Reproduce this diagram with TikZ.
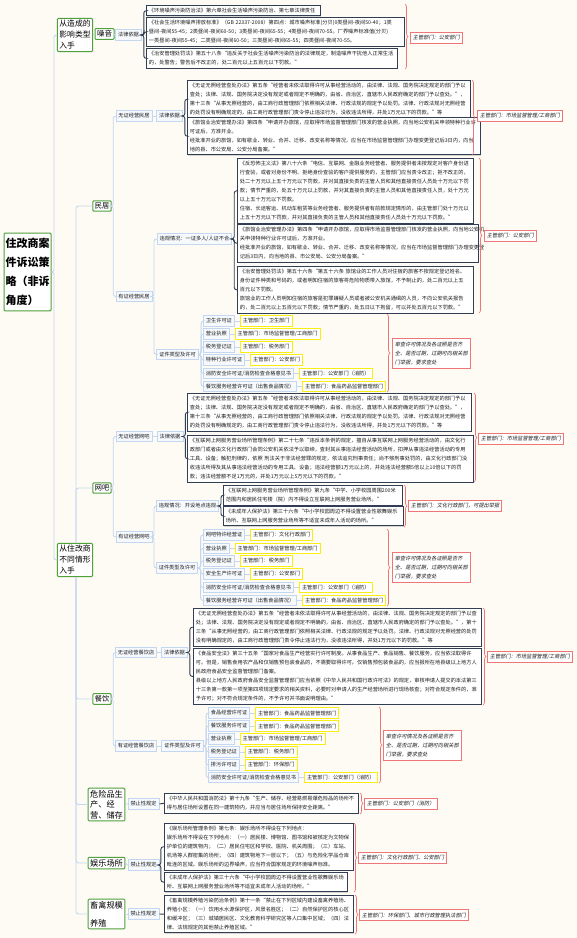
\documentclass[tikz,border=0pt]{standalone}
\usepackage{fontspec}
\setmainfont{Noto Sans CJK SC}
\newfontfamily\slfont[FakeSlant=0.2]{Noto Sans CJK SC}
\usetikzlibrary{decorations.pathreplacing,shadows}
\definecolor{bg}{RGB}{253,251,244}
\definecolor{navy}{RGB}{50,62,84}
\definecolor{lblue}{RGB}{196,215,240}
\definecolor{bfill}{RGB}{246,249,253}
\definecolor{yel}{RGB}{248,238,20}
\definecolor{rednote}{RGB}{238,118,118}
\definecolor{gbord}{RGB}{80,160,60}
\definecolor{tx}{RGB}{28,28,28}
\newcommand\fs{\fontsize{5.2}{9}\selectfont}
\newcommand\zjitem[6]{%
  \node[blu, anchor=west] (#1) at (#2,#3) {#4};
  \node[yel] (#1y) at ([xshift=5pt]#1.east) {#5};
  \draw[con] (#6.east) -- ++(2.5,0) |- (#1.west);
  \draw[con] (#1.east) -- (#1y.west);}
\begin{document}
\begin{tikzpicture}[x=1pt,y=-1pt,
  con/.style={draw=lblue, line width=0.9pt, rounded corners=2.5pt},
  ncon/.style={draw=navy, line width=0.9pt, rounded corners=2.5pt},
  rbrace/.style={draw=rednote, line width=0.7pt, decorate, decoration={brace, amplitude=3pt, aspect=0.5}},
  txt/.style={draw=navy, line width=0.9pt, fill=white, text=tx, font=\fs, align=left, anchor=north west, inner xsep=2.5pt, inner ysep=2.8pt, drop shadow={shadow xshift=0.8pt, shadow yshift=-0.8pt, opacity=0.3, fill=gray}},
  blu/.style={draw=lblue, line width=0.8pt, fill=bfill, text=tx, font=\fs, inner xsep=2.5pt, inner ysep=0pt, minimum height=10.5pt},
  yel/.style={draw=yel, line width=1pt, fill=white, text=tx, font=\fs, inner xsep=2.5pt, inner ysep=0pt, minimum height=10.5pt, anchor=west},
  rnote/.style={draw=rednote, line width=0.8pt, fill=white, text=tx, font={\slfont\fs}, inner xsep=2.5pt, inner ysep=0pt, minimum height=11pt, anchor=west},
  rnotem/.style={draw=rednote, line width=0.8pt, fill=white, text=tx, font={\slfont\fs}, inner xsep=2.5pt, inner ysep=3.8pt, align=left, anchor=west},
  grn/.style={draw=gbord, line width=1pt, fill=white, text=black, align=left, rounded corners=1pt},
]
\useasboundingbox (0,0) rectangle (577,938);
\fill[bg] (0,0) rectangle (577,938);

% ===== left tree =====
\node[grn, font=\fontsize{11}{19}\selectfont\bfseries, inner xsep=1.5pt, inner ysep=5pt] (root) at (27.5,272) {住改商案\\件诉讼策\\略（非诉\\角度）};
\node[grn, font=\fontsize{7.8}{11}\selectfont, inner sep=2pt] (ga) at (75,35) {从造成的\\影响类型\\入手};
\node[grn, font=\fontsize{7.8}{11}\selectfont, inner sep=2pt] (gb) at (75,560) {从住改商\\不同情形\\入手};
\draw[con] (root.east) -- ++(2.5,0) |- (ga.west);
\draw[con] (root.east) -- ++(2.5,0) |- (gb.west);

\node[grn, font=\fontsize{7.5}{10}\selectfont, inner sep=2pt] (zy) at (104.5,34) {噪音};
\draw[con] (ga.east) -- (zy.west);

\node[grn, font=\fontsize{7.2}{10}\selectfont, inner sep=2pt] (mj) at (102,206) {民居};
\node[grn, font=\fontsize{7.2}{10}\selectfont, inner sep=2pt] (wb) at (102,488) {网吧};
\node[grn, font=\fontsize{7.2}{10}\selectfont, inner sep=2pt] (cy) at (102,699) {餐饮};
\node[grn, font=\fontsize{8.2}{10.5}\selectfont, inner sep=2pt] (wx) at (106.5,804.5) {危险品生\\产、经\\营、储存};
\node[grn, font=\fontsize{8.2}{10.5}\selectfont, inner sep=2pt] (yl) at (106.5,863) {娱乐场所};
\node[grn, font=\fontsize{8.2}{18}\selectfont, inner sep=2pt] (xq) at (106.5,914) {畜禽规模\\养殖};
\foreach \c in {mj,wb} {\draw[con] ([xshift=1pt]gb.north) |- (\c.west);}
\foreach \c in {cy,wx,yl,xq} {\draw[con] ([xshift=1pt]gb.south) |- (\c.west);}

% ===== noise =====
\node[blu] (law0) at (128.5,35) {法律依据};
\draw[con] (zy.east) -- (law0.west);
\node[txt, text width=169pt] (n1) at (146,5) {《环境噪声污染防治法》第六章社会生活噪声污染防治、第七章法律责任};
\node[txt, text width=253pt] (n2) at (146,17) {《社会生活环境噪声排放标准》（GB 22337-2008）第四点：城市噪声标准(分贝)0类昼间-夜间50-40；1类\\昼间-夜间55-45；2类昼间-夜间60-50；3类昼间-夜间65-55；4类昼间-夜间70-55。厂界噪声标准值(分贝)\\一类昼间-夜间55-45；二类昼间-夜间60-50；三类昼间-夜间65-55；四类昼间-夜间70-55。};
\node[txt, text width=246pt] (n3) at (146,48) {《治安管理处罚法》第五十八条“违反关于社会生活噪声污染防治的法律规定，制造噪声干扰他人正常生活\\的，处警告；警告后不改正的，处二百元以上五百元以下罚款。”};
\foreach \c in {n1,n2,n3} {\draw[ncon] (law0.east) -- ++(2,0) |- (\c.west);}
\draw[rbrace] (405,4) -- (405,69);
\node[rnote] (r1) at (410,37.5) {主管部门：公安部门};

% ===== 民居 =====
\node[blu] (wzmj) at (134,116) {无证经营民居};
\node[blu] (law1) at (169.5,116) {法律依据};
\node[blu] (yzmj) at (134,296.5) {有证经营民居};
\draw[con] (mj.east) -- ++(1.5,0) |- (wzmj.west);
\draw[con] (mj.east) -- ++(1.5,0) |- (yzmj.west);
\draw[con] (wzmj.east) -- (law1.west);
\node[txt, text width=278pt] (m1) at (187,80) {《无证无照经营查处办法》第五条“经营者未依法取得许可从事经营活动的，由法律、法规、国务院决定规定的部门予以\\查处；法律、法规、国务院决定没有规定或者规定不明确的，由省、自治区、直辖市人民政府确定的部门予以查处。”，\\第十三条“从事无照经营的，由工商行政管理部门依照相关法律、行政法规的规定予以处罚。法律、行政法规对无照经营\\的处罚没有明确规定的，由工商行政管理部门责令停止违法行为，没收违法所得，并处1万元以下的罚款。”等};
\node[txt, text width=288pt] (m2) at (187,117) {《旅馆业治安管理办法》第四条“申请开办旅馆，应取得市场监督管理部门核发的营业执照，向当地公安机关申领特种行业许\\可证后，方准开业。\\经批准开业的旅馆，如有歇业、转业、合并、迁移、改变名称等情况，应当在市场监督管理部门办理变更登记后3日内，向当\\地的县、市公安局、公安分局备案。”};
\foreach \c in {m1,m2} {\draw[ncon] (law1.east) -- ++(2,0) |- (\c.west);}
\draw[rbrace] (472,80) -- (472,155);
\node[rnote] (r2) at (477,116) {主管部门：市场监督管理/工商部门};

\node[blu] (wg1) at (194.5,239) {违规情况：一证多人/人证不合};
\node[blu] (zj1) at (177.5,354.5) {证件类型及许可};
\draw[con] (yzmj.east) -- ++(1.5,0) |- (wg1.west);
\draw[con] (yzmj.east) -- ++(1.5,0) |- (zj1.west);
\node[txt, text width=231pt] (m3) at (237,158) {《反恐怖主义法》第八十六条“电信、互联网、金融业务经营者、服务提供者未按规定对客户身份进\\行查验，或者对身份不明、拒绝身份查验的客户提供服务的，主管部门应当责令改正；拒不改正的，\\处二十万元以上五十万元以下罚款，并对其直接负责的主管人员和其他直接责任人员处十万元以下罚\\款；情节严重的，处五十万元以上罚款，并对其直接负责的主管人员和其他直接责任人员，处十万元\\以上五十万元以下罚款。\\住宿、长途客运、机动车租赁等业务经营者、服务提供者有前款规定情形的，由主管部门处十万元以\\上五十万元以下罚款，并对其直接负责的主管人员和其他直接责任人员处十万元以下罚款。”};
\node[txt, text width=236pt] (m4) at (237,224) {《旅馆业治安管理办法》第四条“申请开办旅馆，应取得市场监督管理部门核发的营业执照，向当地公安机\\关申领特种行业许可证后，方准开业。\\经批准开业的旅馆，如有歇业、转业、合并、迁移、改变名称等情况，应当在市场监督管理部门办理变更登\\记后3日内，向当地的县、市公安局、公安分局备案。”};
\node[txt, text width=231pt] (m5) at (237,266) {《治安管理处罚法》第五十六条“第五十六条~旅馆业的工作人员对住宿的旅客不按规定登记姓名、\\身份证件种类和号码的，或者明知住宿的旅客将危险物质带入旅馆，不予制止的，处二百元以上五\\百元以下罚款。\\旅馆业的工作人员明知住宿的旅客是犯罪嫌疑人员或者被公安机关通缉的人员，不向公安机关报告\\的，处二百元以上五百元以下罚款；情节严重的，处五日以下拘留，可以并处五百元以下罚款。”};
\foreach \c in {m3,m4,m5} {\draw[ncon] (wg1.east) -- ++(2,0) |- (\c.west);}
\draw[rbrace] (479,158) -- (479,313);
\node[rnote] (r3) at (484,236) {主管部门：公安部门};

\zjitem{a1}{203}{321}{卫生许可证}{主管部门：卫生部门}{zj1}
\zjitem{a2}{203}{334}{营业执照}{主管部门：市场监督管理/工商部门}{zj1}
\zjitem{a3}{203}{347}{税务登记证}{主管部门：税务部门}{zj1}
\zjitem{a4}{203}{360}{特种行业许可证}{主管部门：公安部门}{zj1}
\zjitem{a5}{203}{373.5}{消防安全许可证/消防检查合格意见书}{主管部门：公安部门（消防）}{zj1}
\zjitem{a6}{203}{386.5}{餐饮服务经营许可证（出售食品情况）}{主管部门：食品药品监督管理部门}{zj1}
\draw[rbrace] (387,314) -- (387,392);
\node[rnotem] (r4) at (392,353.5) {审查许可情况及各证照是否齐\\全、是否过期，过期可向相关部\\门举报，要求查处};

% ===== 网吧 =====
\node[blu] (wzwb) at (134,436.5) {无证经营网吧};
\node[blu] (law2) at (170,436.5) {法律依据};
\node[blu] (yzwb) at (134,537) {有证经营网吧};
\draw[con] (wb.east) -- ++(1.5,0) |- (wzwb.west);
\draw[con] (wb.east) -- ++(1.5,0) |- (yzwb.west);
\draw[con] (wzwb.east) -- (law2.west);
\node[txt, text width=279pt] (w1) at (187,393) {《无证无照经营查处办法》第五条“经营者未依法取得许可从事经营活动的，由法律、法规、国务院决定规定的部门予以\\查处；法律、法规、国务院决定没有规定或者规定不明确的，由省、自治区、直辖市人民政府确定的部门予以查处。”，\\第十三条“从事无照经营的，由工商行政管理部门依照相关法律、行政法规的规定予以处罚。法律、行政法规对无照经营\\的处罚没有明确规定的，由工商行政管理部门责令停止违法行为，没收违法所得，并处1万元以下的罚款。”等};
\node[txt, text width=281pt] (w2) at (187,435) {《互联网上网服务营业场所管理条例》第二十七条“违反本条例的规定，擅自从事互联网上网服务经营活动的，由文化行\\政部门或者由文化行政部门会同公安机关依法予以取缔，查封其从事违法经营活动的场所，扣押从事违法经营活动的专用\\工具、设备；触犯刑律的，依照~刑法关于非法经营罪的规定，依法追究刑事责任；尚不够刑事处罚的，由文化行政部门没\\收违法所得及其从事违法经营活动的专用工具、设备；违法经营额1万元以上的，并处违法经营额5倍以上10倍以下的罚\\款；违法经营额不足1万元的，并处1万元以上5万元以下的罚款。”};
\foreach \c in {w1,w2} {\draw[ncon] (law2.east) -- ++(2,0) |- (\c.west);}
\draw[rbrace] (474,393) -- (474,482);
\node[rnote] (r5) at (478,438.5) {主管部门：市场监督管理/工商部门};

\node[blu] (wg2) at (187.5,506) {违规情况：开设地点违规};
\node[blu] (zj2) at (177,568) {证件类型及许可};
\draw[con] (yzwb.east) -- ++(1.5,0) |- (wg2.west);
\draw[con] (yzwb.east) -- ++(1.5,0) |- (zj2.west);
\node[txt, text width=174pt] (w3) at (223,485) {《互联网上网服务营业场所管理条例》第九条“中学、小学校园周围200米\\范围内和居民住宅楼（院）内不得设立互联网上网服务营业场所。”};
\node[txt, text width=175pt] (w4) at (223,506) {《未成年人保护法》第三十六条“中小学校园周边不得设置营业性歌舞娱乐\\场所、互联网上网服务营业场所等不适宜未成年人活动的场所。”};
\foreach \c in {w3,w4} {\draw[ncon] (wg2.east) -- ++(2,0) |- (\c.west);}
\draw[rbrace] (404,485) -- (404,527);
\node[rnote] (r6) at (408,505.5) {主管部门：文化行政部门，可提出举报};

\zjitem{b1}{203}{535}{网吧特许经营证}{主管部门：文化行政部门}{zj2}
\zjitem{b2}{203}{548.5}{营业执照}{主管部门：市场监督管理/工商部门}{zj2}
\zjitem{b3}{203}{561}{税务登记证}{主管部门：税务部门}{zj2}
\zjitem{b4}{203}{574}{安全生产许可证}{主管部门：公安部门}{zj2}
\zjitem{b5}{203}{587.5}{消防安全许可证/消防检查合格意见书}{主管部门：公安部门（消防）}{zj2}
\zjitem{b6}{203}{600.5}{餐饮服务经营许可证（出售食品情况）}{主管部门：食品药品监督管理部门}{zj2}
\draw[rbrace] (387,529) -- (387,606);
\node[rnotem] (r7) at (392,567.5) {审查许可情况及各证照是否齐\\全、是否过期，过期可向相关部\\门举报，要求查处};

% ===== 餐饮 =====
\node[blu] (wzcy) at (136,652.5) {无证经营餐饮店};
\node[blu] (law3) at (174.5,652.5) {法律依据};
\node[blu] (yzcy) at (136,746) {有证经营餐饮店};
\draw[con] (cy.east) -- ++(1.5,0) |- (wzcy.west);
\draw[con] (cy.east) -- ++(1.5,0) |- (yzcy.west);
\draw[con] (wzcy.east) -- (law3.west);
\node[txt, text width=283pt] (c1) at (193,608) {《无证无照经营查处办法》第五条“经营者未依法取得许可从事经营活动的，由法律、法规、国务院决定规定的部门予以查\\处；法律、法规、国务院决定没有规定或者规定不明确的，由省、自治区、直辖市人民政府确定的部门予以查处。”，第十\\三条“从事无照经营的，由工商行政管理部门依照相关法律、行政法规的规定予以处罚。法律、行政法规对无照经营的处罚\\没有明确规定的，由工商行政管理部门责令停止违法行为，没收违法所得，并处1万元以下的罚款。”等};
\node[txt, text width=283pt] (c2) at (193,648) {《食品安全法》第三十五条“国家对食品生产经营实行许可制度。从事食品生产、食品销售、餐饮服务，应当依法取得许\\可。但是，销售食用农产品和仅销售预包装食品的，不需要取得许可。仅销售预包装食品的，应当报所在地县级以上地方人\\民政府食品安全监督管理部门备案。\\县级以上地方人民政府食品安全监督管理部门应当依照《中华人民共和国行政许可法》的规定，审核申请人提交的本法第三\\十三条第一款第一项至第四项规定要求的相关资料，必要时对申请人的生产经营场所进行现场核查；对符合规定条件的，准\\予许可；对不符合规定条件的，不予许可并书面说明理由。”};
\foreach \c in {c1,c2} {\draw[ncon] (law3.east) -- ++(2,0) |- (\c.west);}
\draw[rbrace] (483,608) -- (483,705);
\node[rnote] (r8) at (487,657) {主管部门：市场监督管理/工商部门};

\node[blu] (zj3) at (182.5,746) {证件类型及许可};
\draw[con] (yzcy.east) -- (zj3.west);
\zjitem{d1}{208}{713}{食品经营许可证}{主管部门：食品药品监督管理部门}{zj3}
\zjitem{d2}{208}{726}{餐饮服务许可证}{主管部门：食品药品监督管理部门}{zj3}
\zjitem{d3}{208}{739}{营业执照}{主管部门：市场监督管理/工商部门}{zj3}
\zjitem{d4}{208}{752}{税务登记证}{主管部门：税务部门}{zj3}
\zjitem{d5}{208}{765}{排污许可证}{主管部门：环保部门}{zj3}
\zjitem{d6}{208}{777.5}{消防安全许可证/消防检查合格意见书}{主管部门：公安部门（消防）}{zj3}
\draw[rbrace] (379,707) -- (379,783);
\node[rnotem] (r9) at (383,745.5) {审查许可情况及各证照是否齐\\全、是否过期，过期可向相关部\\门举报，要求查处};

% ===== 危险品 / 娱乐 / 畜禽 =====
\node[blu] (jz1) at (143.5,804) {禁止性规定};
\node[blu] (jz2) at (143.5,865) {禁止性规定};
\node[blu] (jz3) at (143.5,914) {禁止性规定};
\draw[con] (wx.east) -- (jz1.west);
\draw[con] (yl.east) -- (jz2.west);
\draw[con] (xq.east) -- (jz3.west);
\node[txt, text width=189pt] (e0) at (164,793) {《中华人民共和国消防法》第十九条“生产、储存、经营易燃易爆危险品的场所不\\得与居住场所设置在同一建筑物内，并应当与居住场所保持安全距离。”};
\draw[ncon] (jz1.east) -- (e0.west);
\draw[rbrace] (360,793) -- (360,814);
\node[rnote] (r10) at (364,804) {主管部门：公安部门（消防）};

\node[txt, text width=184pt] (e1) at (164,823) {《娱乐场所管理条例》第七条：娱乐场所不得设在下列地点：\\娱乐场所不得设在下列地点：（一）居民楼、博物馆、图书馆和被核定为文物保\\护单位的建筑物内；（二）居民住宅区和学校、医院、机关周围；（三）车站、\\机场等人群密集的场所；（四）建筑物地下一层以下；（五）与危险化学品仓库\\毗连的区域。娱乐场所的边界噪声，应当符合国家规定的环境噪声标准。};
\node[txt, text width=178pt] (e2) at (164,872) {《未成年人保护法》第三十六条“中小学校园周边不得设置营业性歌舞娱乐场\\所、互联网上网服务营业场所等不适宜未成年人活动的场所。”};
\foreach \c in {e1,e2} {\draw[ncon] (jz2.east) -- ++(1.5,0) |- (\c.west);}
\draw[rbrace] (354,823) -- (354,892);
\node[rnote] (r11) at (358,858) {主管部门：文化行政部门、公安部门};

\node[txt, text width=184pt] (f1) at (164,895) {《畜禽规模养殖污染防治条例》第十一条“禁止在下列区域内建设畜禽养殖场、\\养殖小区：（一）饮用水水源保护区，风景名胜区；（二）自然保护区的核心区\\和缓冲区；（三）城镇居民区、文化教育科学研究区等人口集中区域；（四）法\\律、法规规定的其他禁止养殖区域。”};
\draw[ncon] (jz3.east) -- (f1.west);
\draw[rbrace] (355,895) -- (355,934);
\node[rnote] (r12) at (359,915) {主管部门：环保部门、城市行政管理执法部门};
\end{tikzpicture}
\end{document}
